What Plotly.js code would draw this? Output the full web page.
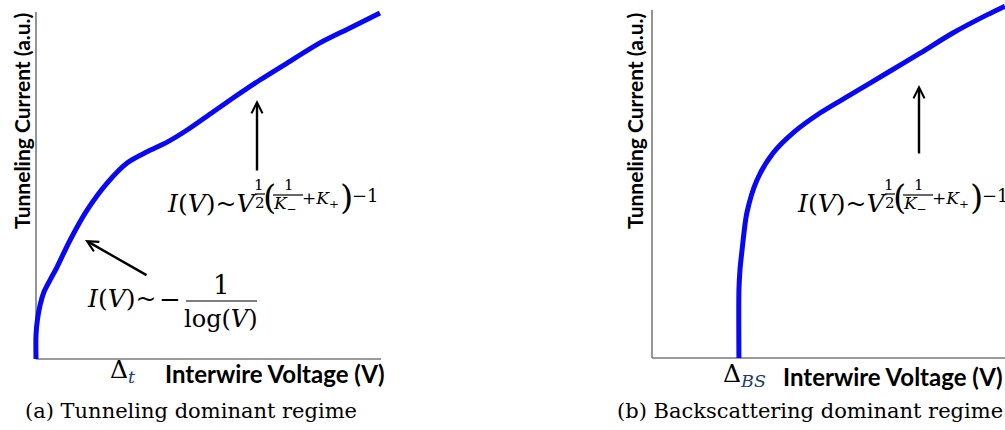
<!DOCTYPE html>
<html><head><meta charset="utf-8">
<script src="https://cdn.plot.ly/plotly-3.0.1.min.js"></script>
<style>html,body{margin:0;padding:0;background:#fff;overflow:hidden}</style>
</head><body>
<div id="chart" style="width:1005px;height:430px"></div>
<script>
// Panel (a): tunneling dominant regime (arbitrary units, 0..100)
const tunnelV = [0, 0, 0.4, 1.2, 2.3, 4.1, 6.1, 9.9, 14.8, 20.6, 26.4, 32.2, 38.0, 43.8, 51.3, 57.1, 64.9, 72.8, 82.3, 91.0, 99.7];
const tunnelI = [0, 6.9, 11.2, 15.6, 19.3, 22.8, 26.5, 34.3, 42.9, 50.7, 56.5, 59.7, 62.5, 66.0, 71.2, 75.2, 80.4, 85.3, 91.1, 95.4, 99.7];
// Panel (b): backscattering dominant regime (arbitrary units)
const backV = [25.2, 25.2, 25.5, 26.1, 27.5, 30.4, 35.1, 40.9, 48.7, 58.3, 68.1, 77.7, 87.2, 97.1, 102.3];
const backI = [0, 19.5, 25.3, 31.0, 41.7, 51.1, 58.9, 64.7, 70.4, 76.1, 81.9, 87.6, 93.4, 98.6, 101.1];
const thresholdSymbol = "Δ";
const thresholdSubs = ["t", "BS"];
const captions = ["(a) Tunneling dominant regime", "(b) Backscattering dominant regime"];
const xTitle = "Interwire Voltage (V)";
const yTitle = "Tunneling Current (a.u.)";

const W = 1005, H = 430;
const SERIF = "DejaVu Serif";
const SANS = "Lato";
const BLUE = "#0808f4";
const AXC = "#7a7a7a";

function xAx(p0, p1, pad) {
  const s = (p1 - p0) / 100;
  const a = Math.max(0, p0 - pad), b = Math.min(W, p1 + pad);
  return {domain: [a / W, b / W], range: [(a - p0) / s, (b - p0) / s], visible: false, fixedrange: true};
}
function yAx(p0, p1, pad) {
  const s = (p0 - p1) / 100;
  const a = Math.min(H, p0 + pad), b = Math.max(0, p1 - pad);
  return {domain: [1 - a / H, 1 - b / H], range: [(p0 - a) / s, (p0 - b) / s], visible: false, fixedrange: true};
}
const xa1 = xAx(36, 381, 12), ya1 = yAx(359, 12, 8);
const xa2 = xAx(652, 997, 14), ya2 = yAx(358, 10, 8);

function T(text, x, y, size, opts) {
  return Object.assign({xref: 'paper', yref: 'paper', x: x / W, y: 1 - y / H, text: text, showarrow: false,
    font: {family: SERIF, size: size, color: '#000'}, xanchor: 'center', yanchor: 'middle', borderpad: 0}, opts || {});
}
function bar(x0, x1, y) {
  return {type: 'line', xref: 'paper', yref: 'paper', x0: x0 / W, x1: x1 / W, y0: 1 - y / H, y1: 1 - y / H,
    line: {color: '#000', width: 1.2}};
}
function upperFormula(ox) {
  return [
    T('<i>I</i>(<i>V</i>)~<i>V</i>', 166 + ox, 203, 25, {xanchor: 'left'}),
    T('1', 259 + ox, 185, 15),
    T('2', 260 + ox, 203, 15),
    T('(', 269 + ox, 197, 34),
    T('1', 289 + ox, 185, 15),
    T('<i>K</i><sub>−</sub>', 272 + ox, 204, 17, {xanchor: 'left'}),
    T('+<i>K</i><sub>+</sub>', 301 + ox, 200, 17, {xanchor: 'left'}),
    T(')', 346 + ox, 197, 34),
    T('−1', 351 + ox, 196, 18, {xanchor: 'left'})
  ];
}
function arrow(x, y, ax, ay) {
  return {xref: 'paper', yref: 'paper', x: x / W, y: 1 - y / H, ax: ax, ay: ay, text: '', showarrow: true,
    arrowhead: 5, arrowsize: 0.9, arrowwidth: 2.4, arrowcolor: '#000', standoff: 0};
}
function delta(i, x, y) {
  return T(thresholdSymbol + '<sub><i><span style="color:#1f3a6e">' + thresholdSubs[i] + '</span></i></sub>', x, y, 25, {xanchor: 'left'});
}

const annotations = [].concat(
  upperFormula(0), upperFormula(630),
  [
    T('<i>I</i>(<i>V</i>)~', 86, 298, 25, {xanchor: 'left'}),
    T('−', 170, 299, 26),
    T('1', 221, 285, 26),
    T('log(<i>V</i>)', 221, 319, 24),
    delta(0, 109, 371),
    delta(1, 722, 375),
    T('<b>' + xTitle + '</b>', 164, 373, 24, {xanchor: 'left', font: {family: SANS, size: 24, color: '#000'}}),
    T('<b>' + xTitle + '</b>', 782, 376, 24, {xanchor: 'left', font: {family: SANS, size: 24, color: '#000'}}),
    T('<b>' + yTitle + '</b>', 21, 121, 21, {textangle: -90, font: {family: SANS, size: 21, color: '#000'}}),
    T('<b>' + yTitle + '</b>', 634, 121, 21, {textangle: -90, font: {family: SANS, size: 21, color: '#000'}}),
    T(captions[0], 191, 411, 21),
    T(captions[1], 810, 411, 21),
    arrow(257, 100, 0, 72),
    arrow(85, 240, 63, 36),
    arrow(919, 85, 0, 70)
  ]
);

const shapes = [
  {type: 'line', xref: 'x', yref: 'y', x0: 0, x1: 0, y0: 0, y1: 100, line: {color: AXC, width: 1.6}, layer: 'below'},
  {type: 'line', xref: 'x', yref: 'y', x0: 0, x1: 100, y0: 0, y1: 0, line: {color: AXC, width: 1.6}, layer: 'below'},
  {type: 'line', xref: 'x2', yref: 'y2', x0: 0, x1: 0, y0: 0, y1: 100, line: {color: AXC, width: 1.6}, layer: 'below'},
  {type: 'line', xref: 'x2', yref: 'y2', x0: 0, x1: xa2.range[1], y0: 0, y1: 0, line: {color: AXC, width: 1.6}, layer: 'below'},
  bar(255, 265, 194), bar(273, 303, 195),
  bar(255 + 630, 265 + 630, 194), bar(273 + 630, 303 + 630, 195),
  bar(186, 257, 301)
];

const traces = [
  {x: tunnelV, y: tunnelI, xaxis: 'x', yaxis: 'y', mode: 'lines', line: {color: BLUE, width: 5, shape: 'spline', smoothing: 0.8}, hoverinfo: 'skip'},
  {x: backV, y: backI, xaxis: 'x2', yaxis: 'y2', mode: 'lines', line: {color: BLUE, width: 5, shape: 'spline', smoothing: 0.8}, hoverinfo: 'skip'}
];

const layout = {
  width: W, height: H, margin: {l: 0, r: 0, t: 0, b: 0},
  paper_bgcolor: '#fff', plot_bgcolor: 'rgba(0,0,0,0)', showlegend: false,
  xaxis: xa1, yaxis: ya1, xaxis2: xa2, yaxis2: ya2,
  annotations: annotations, shapes: shapes
};
Plotly.newPlot('chart', traces, layout, {staticPlot: true, displayModeBar: false});
</script>
</body></html>
